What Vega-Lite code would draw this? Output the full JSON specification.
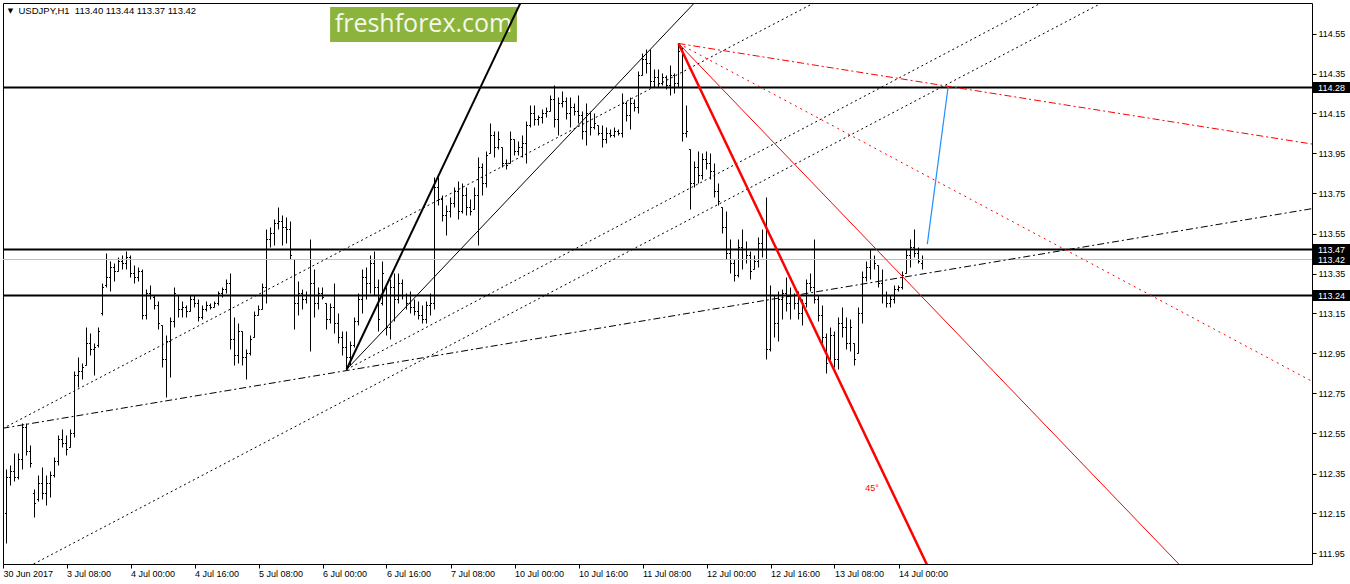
{
"$schema":"https://vega.github.io/schema/vega-lite/v6.json",
"width":1309,"height":561,
"autosize":{"type":"none"},
"padding":{"left":3,"top":3,"right":38,"bottom":20},
"background":"white",
"config":{"view":{"stroke":"black","strokeWidth":1},"font":"Liberation Sans","text":{"font":"Liberation Sans"}},
"datasets":{
"bars":[
{"i":0,"o":112.02,"h":112.27,"l":111.97,"c":112.15},
{"i":1,"o":112.15,"h":112.37,"l":112.00,"c":112.33},
{"i":2,"o":112.33,"h":112.39,"l":112.29,"c":112.36},
{"i":3,"o":112.36,"h":112.45,"l":112.31,"c":112.33},
{"i":4,"o":112.33,"h":112.45,"l":112.32,"c":112.42},
{"i":5,"o":112.42,"h":112.60,"l":112.37,"c":112.58},
{"i":6,"o":112.58,"h":112.60,"l":112.44,"c":112.46},
{"i":7,"o":112.46,"h":112.49,"l":112.38,"c":112.40},
{"i":8,"o":112.25,"h":112.27,"l":112.13,"c":112.20},
{"i":9,"o":112.22,"h":112.34,"l":112.21,"c":112.30},
{"i":10,"o":112.30,"h":112.38,"l":112.22,"c":112.25},
{"i":11,"o":112.25,"h":112.34,"l":112.19,"c":112.30},
{"i":12,"o":112.30,"h":112.36,"l":112.23,"c":112.34},
{"i":13,"o":112.34,"h":112.43,"l":112.33,"c":112.41},
{"i":14,"o":112.41,"h":112.54,"l":112.39,"c":112.52},
{"i":15,"o":112.52,"h":112.57,"l":112.48,"c":112.50},
{"i":16,"o":112.50,"h":112.54,"l":112.44,"c":112.47},
{"i":17,"o":112.48,"h":112.57,"l":112.48,"c":112.55},
{"i":18,"o":112.55,"h":112.86,"l":112.53,"c":112.84},
{"i":19,"o":112.84,"h":112.93,"l":112.78,"c":112.86},
{"i":20,"o":112.86,"h":112.90,"l":112.82,"c":112.88},
{"i":21,"o":112.89,"h":113.08,"l":112.89,"c":113.00},
{"i":22,"o":113.00,"h":113.05,"l":112.94,"c":112.97},
{"i":23,"o":112.97,"h":113.00,"l":112.84,"c":112.98},
{"i":24,"o":112.99,"h":113.08,"l":112.98,"c":113.06},
{"i":25,"o":113.15,"h":113.30,"l":113.14,"c":113.28},
{"i":26,"o":113.29,"h":113.45,"l":113.28,"c":113.33},
{"i":27,"o":113.33,"h":113.41,"l":113.26,"c":113.38},
{"i":28,"o":113.38,"h":113.40,"l":113.31,"c":113.36},
{"i":29,"o":113.36,"h":113.43,"l":113.36,"c":113.41},
{"i":30,"o":113.41,"h":113.44,"l":113.37,"c":113.40},
{"i":31,"o":113.40,"h":113.46,"l":113.37,"c":113.43},
{"i":32,"o":113.43,"h":113.44,"l":113.33,"c":113.35},
{"i":33,"o":113.35,"h":113.39,"l":113.30,"c":113.33},
{"i":34,"o":113.33,"h":113.38,"l":113.31,"c":113.36},
{"i":35,"o":113.36,"h":113.37,"l":113.12,"c":113.14},
{"i":36,"o":113.14,"h":113.27,"l":113.12,"c":113.25},
{"i":37,"o":113.25,"h":113.29,"l":113.22,"c":113.24},
{"i":38,"o":113.23,"h":113.24,"l":113.17,"c":113.19},
{"i":39,"o":113.19,"h":113.21,"l":113.07,"c":113.10},
{"i":40,"o":113.09,"h":113.09,"l":112.88,"c":112.92},
{"i":41,"o":112.92,"h":113.04,"l":112.73,"c":113.01},
{"i":42,"o":113.01,"h":113.13,"l":112.83,"c":113.11},
{"i":43,"o":113.11,"h":113.28,"l":113.08,"c":113.25},
{"i":44,"o":113.24,"h":113.24,"l":113.13,"c":113.17},
{"i":45,"o":113.17,"h":113.21,"l":113.13,"c":113.18},
{"i":46,"o":113.18,"h":113.19,"l":113.13,"c":113.16},
{"i":47,"o":113.16,"h":113.24,"l":113.16,"c":113.22},
{"i":48,"o":113.22,"h":113.24,"l":113.18,"c":113.20},
{"i":49,"o":113.20,"h":113.22,"l":113.11,"c":113.13},
{"i":50,"o":113.13,"h":113.19,"l":113.12,"c":113.17},
{"i":51,"o":113.17,"h":113.21,"l":113.16,"c":113.19},
{"i":52,"o":113.19,"h":113.20,"l":113.17,"c":113.18},
{"i":53,"o":113.18,"h":113.21,"l":113.18,"c":113.20},
{"i":54,"o":113.20,"h":113.26,"l":113.19,"c":113.25},
{"i":55,"o":113.25,"h":113.28,"l":113.23,"c":113.27},
{"i":56,"o":113.27,"h":113.32,"l":113.25,"c":113.30},
{"i":57,"o":113.30,"h":113.35,"l":112.97,"c":113.02},
{"i":58,"o":113.02,"h":113.13,"l":112.89,"c":112.94},
{"i":59,"o":112.94,"h":113.10,"l":112.90,"c":113.06},
{"i":60,"o":113.06,"h":113.06,"l":112.89,"c":112.93},
{"i":61,"o":112.93,"h":112.97,"l":112.82,"c":112.95},
{"i":62,"o":112.95,"h":113.04,"l":112.94,"c":113.02},
{"i":63,"o":113.03,"h":113.16,"l":113.03,"c":113.14},
{"i":64,"o":113.14,"h":113.19,"l":113.14,"c":113.17},
{"i":65,"o":113.17,"h":113.30,"l":113.17,"c":113.28},
{"i":66,"o":113.28,"h":113.57,"l":113.20,"c":113.52},
{"i":67,"o":113.52,"h":113.58,"l":113.48,"c":113.55},
{"i":68,"o":113.55,"h":113.62,"l":113.49,"c":113.60},
{"i":69,"o":113.60,"h":113.68,"l":113.57,"c":113.61},
{"i":70,"o":113.61,"h":113.64,"l":113.49,"c":113.58},
{"i":71,"o":113.58,"h":113.63,"l":113.50,"c":113.57},
{"i":72,"o":113.57,"h":113.61,"l":113.42,"c":113.44},
{"i":73,"o":113.42,"h":113.42,"l":113.07,"c":113.20},
{"i":74,"o":113.20,"h":113.31,"l":113.14,"c":113.25},
{"i":75,"o":113.25,"h":113.27,"l":113.17,"c":113.22},
{"i":76,"o":113.22,"h":113.26,"l":113.20,"c":113.24},
{"i":77,"o":113.24,"h":113.52,"l":112.96,"c":113.30},
{"i":78,"o":113.30,"h":113.37,"l":113.13,"c":113.20},
{"i":79,"o":113.20,"h":113.28,"l":113.17,"c":113.25},
{"i":80,"o":113.25,"h":113.28,"l":113.22,"c":113.23},
{"i":81,"o":113.20,"h":113.20,"l":113.07,"c":113.12},
{"i":82,"o":113.12,"h":113.20,"l":113.10,"c":113.18},
{"i":83,"o":113.18,"h":113.30,"l":113.05,"c":113.10},
{"i":84,"o":113.10,"h":113.15,"l":113.00,"c":113.03},
{"i":85,"o":113.03,"h":113.06,"l":112.94,"c":112.98},
{"i":86,"o":112.98,"h":113.06,"l":112.87,"c":112.93},
{"i":87,"o":112.93,"h":113.01,"l":112.89,"c":112.99},
{"i":88,"o":112.99,"h":113.13,"l":112.98,"c":113.11},
{"i":89,"o":113.11,"h":113.25,"l":113.09,"c":113.22},
{"i":90,"o":113.22,"h":113.37,"l":113.15,"c":113.33},
{"i":91,"o":113.33,"h":113.38,"l":113.22,"c":113.30},
{"i":92,"o":113.30,"h":113.44,"l":113.25,"c":113.40},
{"i":93,"o":113.40,"h":113.46,"l":113.24,"c":113.28},
{"i":94,"o":113.28,"h":113.32,"l":113.06,"c":113.12},
{"i":95,"o":113.20,"h":113.41,"l":113.19,"c":113.35},
{"i":96,"o":113.28,"h":113.28,"l":113.04,"c":113.08},
{"i":97,"o":113.08,"h":113.32,"l":113.02,"c":113.28},
{"i":98,"o":113.28,"h":113.35,"l":113.11,"c":113.22},
{"i":99,"o":113.22,"h":113.35,"l":113.20,"c":113.30},
{"i":100,"o":113.30,"h":113.32,"l":113.22,"c":113.24},
{"i":101,"o":113.24,"h":113.25,"l":113.17,"c":113.20},
{"i":102,"o":113.20,"h":113.26,"l":113.15,"c":113.18},
{"i":103,"o":113.18,"h":113.22,"l":113.14,"c":113.16},
{"i":104,"o":113.16,"h":113.21,"l":113.12,"c":113.14},
{"i":105,"o":113.14,"h":113.19,"l":113.10,"c":113.12},
{"i":106,"o":113.12,"h":113.21,"l":113.10,"c":113.19},
{"i":107,"o":113.19,"h":113.25,"l":113.14,"c":113.20},
{"i":108,"o":113.20,"h":113.83,"l":113.17,"c":113.78},
{"i":109,"o":113.78,"h":113.83,"l":113.69,"c":113.72},
{"i":110,"o":113.72,"h":113.74,"l":113.61,"c":113.64},
{"i":111,"o":113.64,"h":113.69,"l":113.54,"c":113.66},
{"i":112,"o":113.66,"h":113.73,"l":113.63,"c":113.70},
{"i":113,"o":113.70,"h":113.78,"l":113.68,"c":113.76},
{"i":114,"o":113.76,"h":113.81,"l":113.62,"c":113.66},
{"i":115,"o":113.66,"h":113.80,"l":113.65,"c":113.74},
{"i":116,"o":113.74,"h":113.78,"l":113.64,"c":113.68},
{"i":117,"o":113.68,"h":113.72,"l":113.64,"c":113.66},
{"i":118,"o":113.67,"h":113.78,"l":113.67,"c":113.74},
{"i":119,"o":113.74,"h":113.93,"l":113.49,"c":113.88},
{"i":120,"o":113.88,"h":113.90,"l":113.74,"c":113.80},
{"i":121,"o":113.80,"h":113.96,"l":113.78,"c":113.94},
{"i":122,"o":113.95,"h":114.10,"l":113.95,"c":114.04},
{"i":123,"o":114.04,"h":114.06,"l":113.93,"c":113.98},
{"i":124,"o":113.98,"h":114.06,"l":113.97,"c":114.02},
{"i":125,"o":113.98,"h":113.98,"l":113.88,"c":113.90},
{"i":126,"o":113.90,"h":113.92,"l":113.87,"c":113.89},
{"i":127,"o":113.90,"h":114.06,"l":113.90,"c":114.02},
{"i":128,"o":114.02,"h":114.02,"l":113.94,"c":113.96},
{"i":129,"o":113.96,"h":114.01,"l":113.94,"c":113.98},
{"i":130,"o":113.98,"h":114.04,"l":113.93,"c":114.00},
{"i":131,"o":114.00,"h":114.11,"l":113.90,"c":114.09},
{"i":132,"o":114.09,"h":114.19,"l":114.08,"c":114.15},
{"i":133,"o":114.15,"h":114.19,"l":114.09,"c":114.12},
{"i":134,"o":114.12,"h":114.14,"l":114.09,"c":114.13},
{"i":135,"o":114.13,"h":114.17,"l":114.10,"c":114.15},
{"i":136,"o":114.15,"h":114.18,"l":114.13,"c":114.16},
{"i":137,"o":114.16,"h":114.24,"l":114.16,"c":114.22},
{"i":138,"o":114.22,"h":114.29,"l":114.08,"c":114.12},
{"i":139,"o":114.12,"h":114.23,"l":114.04,"c":114.20},
{"i":140,"o":114.20,"h":114.26,"l":114.18,"c":114.21},
{"i":141,"o":114.21,"h":114.23,"l":114.12,"c":114.15},
{"i":142,"o":114.15,"h":114.23,"l":114.08,"c":114.18},
{"i":143,"o":114.18,"h":114.20,"l":114.14,"c":114.16},
{"i":144,"o":114.16,"h":114.24,"l":114.10,"c":114.14},
{"i":145,"o":114.14,"h":114.16,"l":114.02,"c":114.06},
{"i":146,"o":114.06,"h":114.20,"l":113.99,"c":114.15},
{"i":147,"o":114.15,"h":114.16,"l":114.04,"c":114.08},
{"i":148,"o":114.08,"h":114.15,"l":114.07,"c":114.10},
{"i":149,"o":114.09,"h":114.09,"l":114.04,"c":114.05},
{"i":150,"o":114.05,"h":114.09,"l":113.98,"c":114.02},
{"i":151,"o":114.02,"h":114.08,"l":114.00,"c":114.05},
{"i":152,"o":114.05,"h":114.07,"l":114.03,"c":114.04},
{"i":153,"o":114.04,"h":114.08,"l":114.03,"c":114.06},
{"i":154,"o":114.06,"h":114.07,"l":114.04,"c":114.05},
{"i":155,"o":114.05,"h":114.25,"l":114.03,"c":114.20},
{"i":156,"o":114.20,"h":114.21,"l":114.11,"c":114.14},
{"i":157,"o":114.14,"h":114.23,"l":114.07,"c":114.20},
{"i":158,"o":114.20,"h":114.22,"l":114.16,"c":114.18},
{"i":159,"o":114.18,"h":114.36,"l":114.15,"c":114.34},
{"i":160,"o":114.34,"h":114.45,"l":114.34,"c":114.42},
{"i":161,"o":114.42,"h":114.47,"l":114.35,"c":114.40},
{"i":162,"o":114.40,"h":114.47,"l":114.28,"c":114.31},
{"i":163,"o":114.31,"h":114.37,"l":114.28,"c":114.33},
{"i":164,"o":114.33,"h":114.37,"l":114.28,"c":114.30},
{"i":165,"o":114.30,"h":114.35,"l":114.29,"c":114.33},
{"i":166,"o":114.33,"h":114.34,"l":114.27,"c":114.29},
{"i":167,"o":114.29,"h":114.39,"l":114.24,"c":114.34},
{"i":168,"o":114.34,"h":114.35,"l":114.25,"c":114.30},
{"i":169,"o":114.30,"h":114.50,"l":114.28,"c":114.46},
{"i":170,"o":114.46,"h":114.48,"l":114.01,"c":114.05},
{"i":171,"o":114.05,"h":114.19,"l":114.03,"c":114.06},
{"i":172,"o":113.97,"h":113.97,"l":113.67,"c":113.80},
{"i":173,"o":113.80,"h":113.91,"l":113.78,"c":113.88},
{"i":174,"o":113.88,"h":113.96,"l":113.80,"c":113.84},
{"i":175,"o":113.84,"h":113.95,"l":113.82,"c":113.92},
{"i":176,"o":113.92,"h":113.96,"l":113.87,"c":113.90},
{"i":177,"o":113.90,"h":113.95,"l":113.82,"c":113.86},
{"i":178,"o":113.86,"h":113.90,"l":113.73,"c":113.76},
{"i":179,"o":113.76,"h":113.80,"l":113.69,"c":113.71},
{"i":180,"o":113.68,"h":113.68,"l":113.55,"c":113.58},
{"i":181,"o":113.58,"h":113.66,"l":113.42,"c":113.45},
{"i":182,"o":113.45,"h":113.52,"l":113.35,"c":113.40},
{"i":183,"o":113.40,"h":113.42,"l":113.31,"c":113.34},
{"i":184,"o":113.34,"h":113.52,"l":113.33,"c":113.48},
{"i":185,"o":113.48,"h":113.57,"l":113.37,"c":113.42},
{"i":186,"o":113.42,"h":113.51,"l":113.40,"c":113.44},
{"i":187,"o":113.44,"h":113.46,"l":113.32,"c":113.36},
{"i":188,"o":113.37,"h":113.44,"l":113.37,"c":113.41},
{"i":189,"o":113.41,"h":113.53,"l":113.38,"c":113.50},
{"i":190,"o":113.50,"h":113.57,"l":113.43,"c":113.47},
{"i":191,"o":113.47,"h":113.73,"l":112.92,"c":112.97},
{"i":192,"o":112.97,"h":113.29,"l":112.96,"c":113.24},
{"i":193,"o":113.24,"h":113.24,"l":113.03,"c":113.10},
{"i":194,"o":113.10,"h":113.26,"l":113.01,"c":113.22},
{"i":195,"o":113.22,"h":113.27,"l":113.12,"c":113.25},
{"i":196,"o":113.25,"h":113.33,"l":113.16,"c":113.20},
{"i":197,"o":113.20,"h":113.28,"l":113.12,"c":113.24},
{"i":198,"o":113.24,"h":113.25,"l":113.17,"c":113.20},
{"i":199,"o":113.20,"h":113.26,"l":113.12,"c":113.15},
{"i":200,"o":113.15,"h":113.22,"l":113.09,"c":113.20},
{"i":201,"o":113.20,"h":113.32,"l":113.18,"c":113.30},
{"i":202,"o":113.30,"h":113.35,"l":113.26,"c":113.28},
{"i":203,"o":113.28,"h":113.52,"l":113.20,"c":113.22},
{"i":204,"o":113.22,"h":113.24,"l":113.11,"c":113.14},
{"i":205,"o":113.14,"h":113.19,"l":113.00,"c":113.03},
{"i":206,"o":113.03,"h":113.05,"l":112.85,"c":112.90},
{"i":207,"o":112.92,"h":113.08,"l":112.92,"c":113.04},
{"i":208,"o":113.04,"h":113.06,"l":112.88,"c":112.92},
{"i":209,"o":112.92,"h":113.13,"l":112.87,"c":113.10},
{"i":210,"o":113.10,"h":113.18,"l":113.03,"c":113.08},
{"i":211,"o":113.08,"h":113.13,"l":112.97,"c":113.00},
{"i":212,"o":113.00,"h":113.12,"l":112.96,"c":113.08},
{"i":213,"o":113.00,"h":113.00,"l":112.89,"c":112.92},
{"i":214,"o":112.95,"h":113.18,"l":112.95,"c":113.15},
{"i":215,"o":113.15,"h":113.36,"l":113.10,"c":113.33},
{"i":216,"o":113.33,"h":113.41,"l":113.31,"c":113.38},
{"i":217,"o":113.38,"h":113.47,"l":113.32,"c":113.42},
{"i":218,"o":113.42,"h":113.44,"l":113.37,"c":113.40},
{"i":219,"o":113.39,"h":113.39,"l":113.28,"c":113.30},
{"i":220,"o":113.30,"h":113.37,"l":113.20,"c":113.24},
{"i":221,"o":113.24,"h":113.26,"l":113.18,"c":113.20},
{"i":222,"o":113.20,"h":113.24,"l":113.18,"c":113.22},
{"i":223,"o":113.22,"h":113.29,"l":113.20,"c":113.27},
{"i":224,"o":113.27,"h":113.29,"l":113.26,"c":113.28},
{"i":225,"o":113.28,"h":113.36,"l":113.27,"c":113.34},
{"i":226,"o":113.35,"h":113.47,"l":113.35,"c":113.44},
{"i":227,"o":113.44,"h":113.52,"l":113.38,"c":113.48},
{"i":228,"o":113.48,"h":113.57,"l":113.43,"c":113.45},
{"i":229,"o":113.45,"h":113.48,"l":113.40,"c":113.41},
{"i":230,"o":113.40,"h":113.44,"l":113.37,"c":113.42}
],
"lines":[
{"name":"trend steep","i1":86,"p1":112.87,"i2":135,"p2":114.935},
{"name":"trend","i1":86,"p1":112.87,"i2":180,"p2":114.851},
{"name":"channel upper","i1":0,"p1":112.574,"i2":215,"p2":114.830},
{"name":"channel lower","i1":0,"p1":111.816,"i2":290,"p2":114.862},
{"name":"channel mid","i1":86,"p1":112.87,"i2":270,"p2":114.812},
{"name":"support","i1":0,"p1":112.576,"i2":330,"p2":113.683},
{"name":"fan 45","i1":169,"p1":114.50,"i2":236,"p2":111.689},
{"name":"fan 2","i1":169,"p1":114.50,"i2":300,"p2":111.774},
{"name":"fan 3","i1":169,"p1":114.50,"i2":330,"p2":112.783},
{"name":"fan 4","i1":169,"p1":114.50,"i2":330,"p2":113.989},
{"name":"target","i1":231.2,"p1":113.497,"i2":236.4,"p2":114.2825}
],
"levels":[{"p":114.28},{"p":113.47},{"p":113.24}],
"tags":[{"p":114.28},{"p":113.47},{"p":113.42},{"p":113.24}]
},
"layer":[
{"data":{"name":"bars"},
 "mark":{"type":"rule","color":"black","strokeWidth":1,"clip":true},
 "encoding":{
  "x":{"field":"i","type":"quantitative","scale":{"domain":[0.125,327.375],"nice":false,"zero":false},
   "axis":{"orient":"bottom","values":[0.125,16,32,48,64,80,96,112,128,144,160,176,192,208,224],
    "labelExpr":"['30 Jun 2017','3 Jul 08:00','4 Jul 00:00','4 Jul 16:00','5 Jul 08:00','6 Jul 00:00','6 Jul 16:00','7 Jul 08:00','10 Jul 00:00','10 Jul 16:00','11 Jul 08:00','12 Jul 00:00','12 Jul 16:00','13 Jul 08:00','14 Jul 00:00'][round(datum.value/16)]",
    "title":null,"domain":false,"grid":false,"ticks":true,"tickSize":4,"tickColor":"black","labels":true,"labelColor":"black","labelFont":"Liberation Sans","labelFontSize":9,"labelAlign":"left","labelBaseline":"top","labelPadding":1,"labelFlush":false,"labelOverlap":false,"labelBound":false}},
  "y":{"field":"l","type":"quantitative","scale":{"domain":[111.8975,114.7025],"nice":false,"zero":false},
   "axis":{"orient":"right","values":[111.95,112.15,112.35,112.55,112.75,112.95,113.15,113.35,113.55,113.75,113.95,114.15,114.35,114.55],
    "format":".2f","title":null,"domain":false,"grid":false,"ticks":true,"tickSize":4,"tickColor":"black","labels":true,"labelColor":"black","labelFont":"Liberation Sans","labelFontSize":9,"labelPadding":2,"labelBaseline":"middle","labelFlush":false,"labelOverlap":false,"labelBound":false}},
  "y2":{"field":"h"}}},
{"data":{"values":[{}]},
 "mark":{"type":"rect","color":"#8cb43c"},
 "encoding":{"x":{"datum":81.9,"type":"quantitative"},"x2":{"datum":128.6},"y":{"datum":114.6825,"type":"quantitative"},"y2":{"datum":114.5075}}},
{"data":{"values":[{"label":"freshforex.com"}]},
 "mark":{"type":"text","color":"#f4f8ec","font":"Open Sans","fontSize":25,"align":"center","baseline":"middle"},
 "encoding":{"x":{"datum":105.25,"type":"quantitative"},"y":{"datum":114.597,"type":"quantitative"},"text":{"field":"label"}}},
{"data":{"name":"bars"},
 "mark":{"type":"rule","color":"black","strokeWidth":1,"xOffset":-1.5,"x2Offset":0,"clip":true},
 "encoding":{"x":{"field":"i","type":"quantitative"},"x2":{"field":"i"},"y":{"field":"o","type":"quantitative"}}},
{"data":{"name":"bars"},
 "mark":{"type":"rule","color":"black","strokeWidth":1,"xOffset":0,"x2Offset":1.5,"clip":true},
 "encoding":{"x":{"field":"i","type":"quantitative"},"x2":{"field":"i"},"y":{"field":"c","type":"quantitative"}}},
{"data":{"values":[{"p":113.42}]},
 "mark":{"type":"rule","color":"#c0c0c0","strokeWidth":1},
 "encoding":{"y":{"field":"p","type":"quantitative"}}},
{"data":{"name":"levels"},
 "mark":{"type":"rule","color":"black","strokeWidth":2},
 "encoding":{"y":{"field":"p","type":"quantitative"}}},
{"data":{"name":"lines"},"transform":[{"filter":{"field":"name","equal":"trend steep"}}],
 "mark":{"type":"rule","color":"black","strokeWidth":2,"clip":true},
 "encoding":{"x":{"field":"i1","type":"quantitative"},"x2":{"field":"i2"},"y":{"field":"p1","type":"quantitative"},"y2":{"field":"p2"}}},
{"data":{"name":"lines"},"transform":[{"filter":{"field":"name","equal":"trend"}}],
 "mark":{"type":"rule","color":"black","strokeWidth":1,"clip":true},
 "encoding":{"x":{"field":"i1","type":"quantitative"},"x2":{"field":"i2"},"y":{"field":"p1","type":"quantitative"},"y2":{"field":"p2"}}},
{"data":{"name":"lines"},"transform":[{"filter":{"field":"name","oneOf":["channel upper","channel lower","channel mid"]}}],
 "mark":{"type":"rule","color":"black","strokeWidth":1,"strokeDash":[2,3],"clip":true},
 "encoding":{"x":{"field":"i1","type":"quantitative"},"x2":{"field":"i2"},"y":{"field":"p1","type":"quantitative"},"y2":{"field":"p2"}}},
{"data":{"name":"lines"},"transform":[{"filter":{"field":"name","equal":"support"}}],
 "mark":{"type":"rule","color":"black","strokeWidth":1,"strokeDash":[7,3,2,3],"clip":true},
 "encoding":{"x":{"field":"i1","type":"quantitative"},"x2":{"field":"i2"},"y":{"field":"p1","type":"quantitative"},"y2":{"field":"p2"}}},
{"data":{"name":"lines"},"transform":[{"filter":{"field":"name","equal":"fan 45"}}],
 "mark":{"type":"rule","color":"#ff0000","strokeWidth":2.5,"clip":true},
 "encoding":{"x":{"field":"i1","type":"quantitative"},"x2":{"field":"i2"},"y":{"field":"p1","type":"quantitative"},"y2":{"field":"p2"}}},
{"data":{"name":"lines"},"transform":[{"filter":{"field":"name","equal":"fan 2"}}],
 "mark":{"type":"rule","color":"#ff0000","strokeWidth":1,"clip":true},
 "encoding":{"x":{"field":"i1","type":"quantitative"},"x2":{"field":"i2"},"y":{"field":"p1","type":"quantitative"},"y2":{"field":"p2"}}},
{"data":{"name":"lines"},"transform":[{"filter":{"field":"name","equal":"fan 3"}}],
 "mark":{"type":"rule","color":"#ff0000","strokeWidth":1,"strokeDash":[2,4],"clip":true},
 "encoding":{"x":{"field":"i1","type":"quantitative"},"x2":{"field":"i2"},"y":{"field":"p1","type":"quantitative"},"y2":{"field":"p2"}}},
{"data":{"name":"lines"},"transform":[{"filter":{"field":"name","equal":"fan 4"}}],
 "mark":{"type":"rule","color":"#ff0000","strokeWidth":1,"strokeDash":[7,3,2,3],"clip":true},
 "encoding":{"x":{"field":"i1","type":"quantitative"},"x2":{"field":"i2"},"y":{"field":"p1","type":"quantitative"},"y2":{"field":"p2"}}},
{"data":{"name":"lines"},"transform":[{"filter":{"field":"name","equal":"target"}}],
 "mark":{"type":"rule","color":"#1e90ff","strokeWidth":1.2,"clip":true},
 "encoding":{"x":{"field":"i1","type":"quantitative"},"x2":{"field":"i2"},"y":{"field":"p1","type":"quantitative"},"y2":{"field":"p2"}}},
{"data":{"name":"tags"},
 "mark":{"type":"rect","color":"black","width":37,"height":11},
 "encoding":{"x":{"datum":332.25,"type":"quantitative"},"y":{"field":"p","type":"quantitative"}}},
{"data":{"name":"tags"},
 "mark":{"type":"text","color":"white","fontSize":9,"align":"center","baseline":"middle","font":"Liberation Sans"},
 "encoding":{"x":{"datum":332.25,"type":"quantitative"},"y":{"field":"p","type":"quantitative"},"text":{"field":"p","type":"quantitative","format":".2f"}}},
{"data":{"values":[{"label":"USDJPY,H1\u00a0 113.40 113.44 113.37 113.42"}]},
 "mark":{"type":"text","color":"black","fontSize":9.5,"align":"left","baseline":"middle","font":"Liberation Sans"},
 "encoding":{"x":{"datum":4.0,"type":"quantitative"},"y":{"datum":114.6625,"type":"quantitative"},"text":{"field":"label"}}},
{"data":{"values":[{"label":"▼"}]},
 "mark":{"type":"text","color":"black","fontSize":7,"align":"center","baseline":"middle","font":"DejaVu Sans"},
 "encoding":{"x":{"datum":2.0,"type":"quantitative"},"y":{"datum":114.6625,"type":"quantitative"},"text":{"field":"label"}}},
{"data":{"values":[{"label":"45°"}]},
 "mark":{"type":"text","color":"#ff0000","fontSize":9,"align":"center","baseline":"middle","font":"Liberation Sans"},
 "encoding":{"x":{"datum":217.4,"type":"quantitative"},"y":{"datum":112.2775,"type":"quantitative"},"text":{"field":"label"}}}
]
}
